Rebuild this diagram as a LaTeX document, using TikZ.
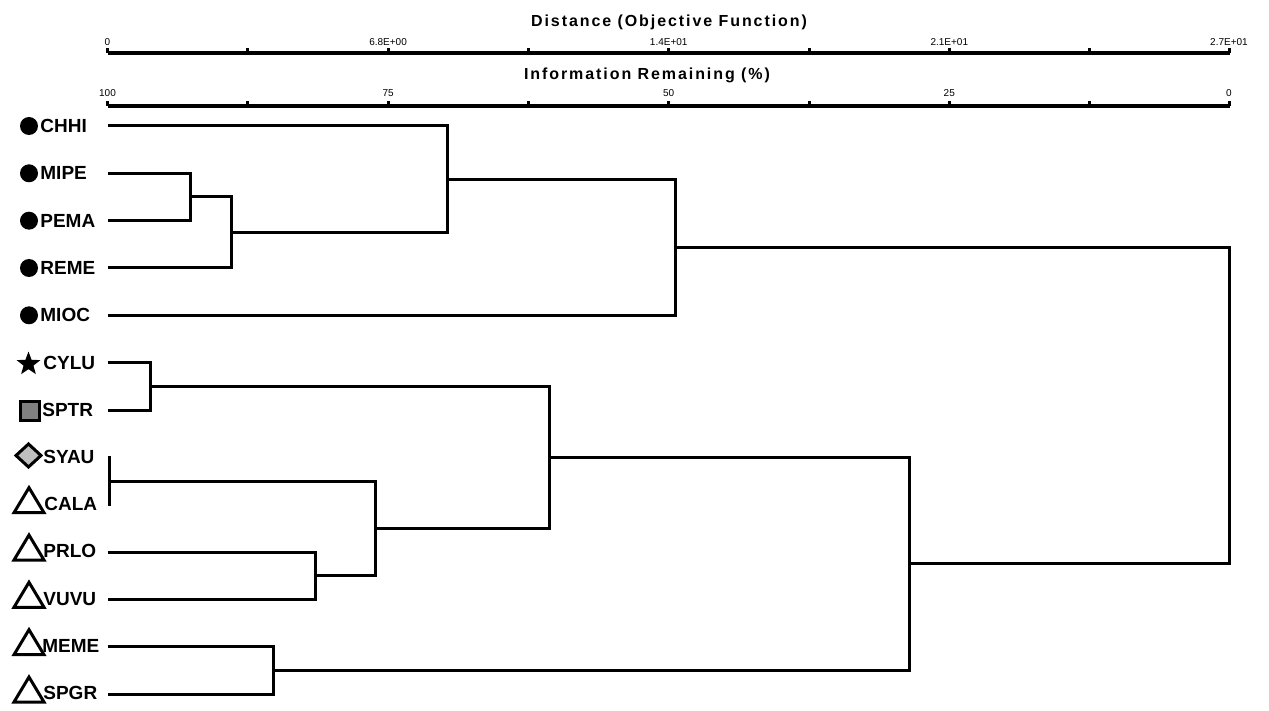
\documentclass[tikz,border=0pt]{standalone}
\usepackage{fontspec}
\setmainfont{Liberation Sans}
\newfontfamily\spacedfont[LetterSpace=12]{Liberation Sans}
\usetikzlibrary{shapes.geometric,calc}
\begin{document}
\begin{tikzpicture}[x=0.5pt,y=-0.5pt,
  link/.style={line width=1.5pt, line join=miter},
  axisline/.style={line width=2pt},
  tickmark/.style={line width=1.5pt},
  ticklabel/.style={font=\fontsize{5}{6}\selectfont, inner sep=0},
  axtitle/.style={font=\spacedfont\bfseries\fontsize{8}{9}\selectfont, inner sep=0},
  leaflabel/.style={font=\bfseries\fontsize{9.5}{11}\selectfont, inner sep=0, anchor=base west},
  dot/.style={circle, fill=black, minimum size=9pt, inner sep=0},
  starmark/.style={star, star points=5, star point ratio=2.4, fill=black, minimum size=12.5pt, inner sep=0},
  sqmark/.style={draw, line width=1.5pt, fill=black!50, minimum size=9.5pt, inner sep=0},
  symline/.style={line width=1.5pt, line join=miter},
]
\useasboundingbox (0,0) rectangle (1269,711);

% ---------- axes ----------
\node[axtitle] (t1) at (669,22) {Distance (Objective Function)};
\node[axtitle] (t2) at (647,75) {Information Remaining (\%)};
\coordinate (a0) at (107.5,53);
\coordinate (a8) at (1230,53);
\coordinate (b0) at (107.5,106);
\coordinate (b8) at (1230,106);
\draw[axisline] (a0) -- (a8);
\draw[axisline] (b0) -- (b8);
\foreach \k in {0,...,8}{
  \draw[tickmark] (107.5+\k*140.3,53) -- ++(0,-5);
  \draw[tickmark] (107.5+\k*140.3,106) -- ++(0,-5);
}
\node[ticklabel] (d0) at (107.5,42) {0};
\node[ticklabel] (d2) at (388.1,42) {6.8E+00};
\node[ticklabel] (d4) at (668.7,42) {1.4E+01};
\node[ticklabel] (d6) at (949.3,42) {2.1E+01};
\node[ticklabel] (d8) at (1229,42) {2.7E+01};
\node[ticklabel] (p0) at (107.5,93) {100};
\node[ticklabel] (p2) at (388.1,93) {75};
\node[ticklabel] (p4) at (668.7,93) {50};
\node[ticklabel] (p6) at (949.3,93) {25};
\node[ticklabel] (p8) at (1229,93) {0};

% ---------- symbols ----------
\node[dot] (sCHHI) at (29,126) {};
\node[dot] (sMIPE) at (29,173.3) {};
\node[dot] (sPEMA) at (29,220.7) {};
\node[dot] (sREME) at (29,268) {};
\node[dot] (sMIOC) at (29,315.3) {};
\node[starmark] (sCYLU) at (28.5,364) {};
\node[sqmark] (sSPTR) at (30,410.5) {};
\draw[symline, fill=black!25] (16,455.5) -- (28.5,444) -- (41,455.5) -- (28.5,467) -- cycle;
\foreach \ty in {504.7,552,599.3,646.7,694}{
  \draw[symline] (14,\ty+8) -- (44,\ty+8) -- (29,\ty-17) -- cycle;
}

% ---------- labels ----------
\node[leaflabel] (CHHI) at (40,132.5) {CHHI};
\node[leaflabel] (MIPE) at (40,179.8) {MIPE};
\node[leaflabel] (PEMA) at (40,227.2) {PEMA};
\node[leaflabel] (REME) at (40,274.5) {REME};
\node[leaflabel] (MIOC) at (40,321.8) {MIOC};
\node[leaflabel] (CYLU) at (43,369.5) {CYLU};
\node[leaflabel] (SPTR) at (42,416.5) {SPTR};
\node[leaflabel] (SYAU) at (43,463) {SYAU};
\node[leaflabel] (CALA) at (44,510.5) {CALA};
\node[leaflabel] (PRLO) at (43,557.5) {PRLO};
\node[leaflabel] (VUVU) at (43,605) {VUVU};
\node[leaflabel] (MEME) at (42,652.5) {MEME};
\node[leaflabel] (SPGR) at (43,699.5) {SPGR};

% ---------- leaf ends ----------
\coordinate (eCHHI) at (107.5,126);
\coordinate (eMIPE) at (107.5,173.3);
\coordinate (ePEMA) at (107.5,220.7);
\coordinate (eREME) at (107.5,268);
\coordinate (eMIOC) at (107.5,315.3);
\coordinate (eCYLU) at (107.5,362.7);
\coordinate (eSPTR) at (107.5,410);
\coordinate (eSYAU) at (107.5,457.3);
\coordinate (eCALA) at (107.5,504.7);
\coordinate (ePRLO) at (107.5,552);
\coordinate (eVUVU) at (107.5,599.3);
\coordinate (eMEME) at (107.5,646.7);
\coordinate (eSPGR) at (107.5,694);

% ---------- joins ----------
\coordinate (j1) at (190.7,197);
\coordinate (j2) at (231.7,232.5);
\coordinate (j3) at (447,179.25);
\coordinate (j4) at (675,247.3);
\coordinate (j5) at (150,386.3);
\coordinate (j6) at (109,481);
\coordinate (j7) at (315,575.7);
\coordinate (j8) at (375,528.3);
\coordinate (j9) at (549,457.3);
\coordinate (j10) at (273,670.3);
\coordinate (j11) at (909,563.8);
\coordinate (jr) at (1229,405.5);

\draw[link] (eMIPE) -| (j1) |- (ePEMA);
\draw[link] (j1) -| (j2) |- (eREME);
\draw[link] (eCHHI) -| (j3) |- (j2);
\draw[link] (j3) -| (j4) |- (eMIOC);
\draw[link] (eCYLU) -| (j5) |- (eSPTR);
\draw[link] (eSYAU) -| (j6) |- (eCALA);
\draw[link] (ePRLO) -| (j7) |- (eVUVU);
\draw[link] (j6) -| (j8) |- (j7);
\draw[link] (j5) -| (j9) |- (j8);
\draw[link] (eMEME) -| (j10) |- (eSPGR);
\draw[link] (j9) -| (j11) |- (j10);
\draw[link] (j4) -| (jr) |- (j11);
\end{tikzpicture}
\end{document}
